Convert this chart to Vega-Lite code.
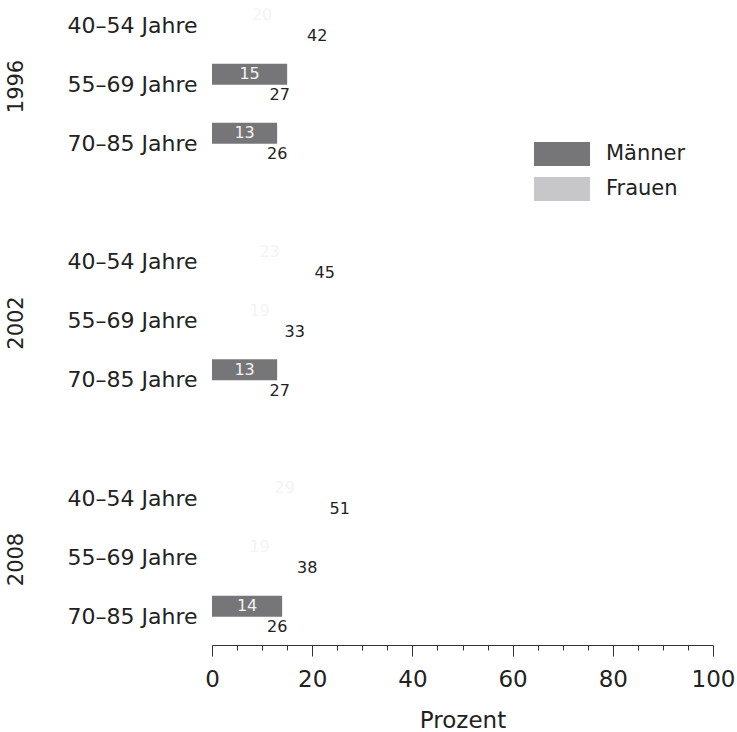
{
  "$schema": "https://vega.github.io/schema/vega-lite/v6.json",
  "autosize": {"type": "pad"},
  "padding": {"left": 5, "top": 0, "right": 0, "bottom": 0},
  "background": "white",
  "data": {
    "values": [
      {"Jahr": "1996", "Alter": "40–54 Jahre", "Geschlecht": "Männer", "Prozent": 20},
      {"Jahr": "1996", "Alter": "40–54 Jahre", "Geschlecht": "Frauen", "Prozent": 42},
      {"Jahr": "1996", "Alter": "55–69 Jahre", "Geschlecht": "Männer", "Prozent": 15},
      {"Jahr": "1996", "Alter": "55–69 Jahre", "Geschlecht": "Frauen", "Prozent": 27},
      {"Jahr": "1996", "Alter": "70–85 Jahre", "Geschlecht": "Männer", "Prozent": 13},
      {"Jahr": "1996", "Alter": "70–85 Jahre", "Geschlecht": "Frauen", "Prozent": 26},
      {"Jahr": "2002", "Alter": "40–54 Jahre", "Geschlecht": "Männer", "Prozent": 23},
      {"Jahr": "2002", "Alter": "40–54 Jahre", "Geschlecht": "Frauen", "Prozent": 45},
      {"Jahr": "2002", "Alter": "55–69 Jahre", "Geschlecht": "Männer", "Prozent": 19},
      {"Jahr": "2002", "Alter": "55–69 Jahre", "Geschlecht": "Frauen", "Prozent": 33},
      {"Jahr": "2002", "Alter": "70–85 Jahre", "Geschlecht": "Männer", "Prozent": 13},
      {"Jahr": "2002", "Alter": "70–85 Jahre", "Geschlecht": "Frauen", "Prozent": 27},
      {"Jahr": "2008", "Alter": "40–54 Jahre", "Geschlecht": "Männer", "Prozent": 29},
      {"Jahr": "2008", "Alter": "40–54 Jahre", "Geschlecht": "Frauen", "Prozent": 51},
      {"Jahr": "2008", "Alter": "55–69 Jahre", "Geschlecht": "Männer", "Prozent": 19},
      {"Jahr": "2008", "Alter": "55–69 Jahre", "Geschlecht": "Frauen", "Prozent": 38},
      {"Jahr": "2008", "Alter": "70–85 Jahre", "Geschlecht": "Männer", "Prozent": 14},
      {"Jahr": "2008", "Alter": "70–85 Jahre", "Geschlecht": "Frauen", "Prozent": 26}
    ]
  },
  "spacing": 64.5,
  "vconcat": [
    {
      "transform": [{"filter": "datum.Jahr === '1996'"}],
      "width": 501,
      "height": 172,
      "encoding": {
        "y": {
          "field": "Alter", "type": "nominal",
          "sort": ["40–54 Jahre", "55–69 Jahre", "70–85 Jahre"],
          "scale": {"paddingInner": 0.288, "paddingOuter": 0.1017, "align": 0.4},
          "axis": {"title": "1996"}
        },
        "yOffset": {"field": "Geschlecht", "type": "nominal", "sort": ["Männer", "Frauen"], "scale": {"paddingInner": 0, "paddingOuter": 0}}
      },
      "layer": [
        {
          "mark": {"type": "bar"},
          "encoding": {
            "x": {"field": "Prozent", "type": "quantitative", "scale": {"domain": [0, 100], "nice": false}, "axis": null},
            "color": {"field": "Geschlecht", "type": "nominal", "scale": {"domain": ["Männer", "Frauen"], "range": ["#767678", "#c7c7c9"]}},
            "opacity": {"condition": {"test": "datum.Geschlecht === 'Männer' && datum.Prozent <= 15", "value": 1}, "value": 0}
          }
        },
        {
          "mark": {"type": "text", "font": "DejaVu Sans", "fontSize": 16, "baseline": "middle", "align": "center"},
          "encoding": {
            "x": {"field": "Prozent", "type": "quantitative", "scale": {"domain": [0, 200], "nice": false}, "axis": null},
            "text": {"field": "Prozent", "type": "quantitative"},
            "color": {"condition": {"test": "datum.Geschlecht === 'Männer'", "value": "#f4f4f4"}, "value": "#222222"}
          }
        }
      ],
      "resolve": {"scale": {"x": "independent"}}
    },
    {
      "transform": [{"filter": "datum.Jahr === '2002'"}],
      "width": 501,
      "height": 172,
      "encoding": {
        "y": {
          "field": "Alter", "type": "nominal",
          "sort": ["40–54 Jahre", "55–69 Jahre", "70–85 Jahre"],
          "scale": {"paddingInner": 0.288, "paddingOuter": 0.1017, "align": 0.4},
          "axis": {"title": "2002"}
        },
        "yOffset": {"field": "Geschlecht", "type": "nominal", "sort": ["Männer", "Frauen"], "scale": {"paddingInner": 0, "paddingOuter": 0}}
      },
      "layer": [
        {
          "mark": {"type": "bar"},
          "encoding": {
            "x": {"field": "Prozent", "type": "quantitative", "scale": {"domain": [0, 100], "nice": false}, "axis": null},
            "color": {"field": "Geschlecht", "type": "nominal", "scale": {"domain": ["Männer", "Frauen"], "range": ["#767678", "#c7c7c9"]}},
            "opacity": {"condition": {"test": "datum.Geschlecht === 'Männer' && datum.Prozent <= 15", "value": 1}, "value": 0}
          }
        },
        {
          "mark": {"type": "text", "font": "DejaVu Sans", "fontSize": 16, "baseline": "middle", "align": "center"},
          "encoding": {
            "x": {"field": "Prozent", "type": "quantitative", "scale": {"domain": [0, 200], "nice": false}, "axis": null},
            "text": {"field": "Prozent", "type": "quantitative"},
            "color": {"condition": {"test": "datum.Geschlecht === 'Männer'", "value": "#f4f4f4"}, "value": "#222222"}
          }
        }
      ],
      "resolve": {"scale": {"x": "independent"}}
    },
    {
      "transform": [{"filter": "datum.Jahr === '2008'"}],
      "width": 501,
      "height": 172,
      "encoding": {
        "y": {
          "field": "Alter", "type": "nominal",
          "sort": ["40–54 Jahre", "55–69 Jahre", "70–85 Jahre"],
          "scale": {"paddingInner": 0.288, "paddingOuter": 0.1017, "align": 0.4},
          "axis": {"title": "2008"}
        },
        "yOffset": {"field": "Geschlecht", "type": "nominal", "sort": ["Männer", "Frauen"], "scale": {"paddingInner": 0, "paddingOuter": 0}}
      },
      "layer": [
        {
          "mark": {"type": "bar"},
          "encoding": {
            "x": {
              "field": "Prozent", "type": "quantitative",
              "scale": {"domain": [0, 100], "nice": false},
              "axis": {
                "title": "Prozent",
                "values": [0, 5, 10, 15, 20, 25, 30, 35, 40, 45, 50, 55, 60, 65, 70, 75, 80, 85, 90, 95, 100],
                "labelExpr": "datum.value % 20 === 0 ? datum.label : ''",
                "labelOverlap": false,
                "labelFlush": false,
                "tickSize": {"condition": {"test": "datum.value % 20 === 0", "value": 11}, "value": 5},
                "tickColor": "#333333",
                "domainColor": "#333333",
                "grid": false,
                "labelFont": "DejaVu Sans",
                "labelFontSize": 23,
                "labelColor": "#222222",
                "labelPadding": 12,
                "titleFont": "DejaVu Sans",
                "titleFontSize": 23,
                "titleFontWeight": "normal",
                "titleColor": "#222222",
                "titlePadding": 18
              }
            },
            "color": {"field": "Geschlecht", "type": "nominal", "scale": {"domain": ["Männer", "Frauen"], "range": ["#767678", "#c7c7c9"]}},
            "opacity": {"condition": {"test": "datum.Geschlecht === 'Männer' && datum.Prozent <= 15", "value": 1}, "value": 0}
          }
        },
        {
          "mark": {"type": "text", "font": "DejaVu Sans", "fontSize": 16, "baseline": "middle", "align": "center"},
          "encoding": {
            "x": {"field": "Prozent", "type": "quantitative", "scale": {"domain": [0, 200], "nice": false}, "axis": null},
            "text": {"field": "Prozent", "type": "quantitative"},
            "color": {"condition": {"test": "datum.Geschlecht === 'Männer'", "value": "#f4f4f4"}, "value": "#222222"}
          }
        }
      ],
      "resolve": {"scale": {"x": "independent"}}
    }
  ],
  "config": {
    "view": {"stroke": null},
    "axisY": {
      "ticks": false,
      "domain": false,
      "labelPadding": 15,
      "labelFont": "DejaVu Sans",
      "labelFontSize": 22,
      "labelColor": "#222222",
      "titleFont": "DejaVu Sans",
      "titleFontSize": 21,
      "titleFontWeight": "normal",
      "titleColor": "#222222",
      "titlePadding": 41
    },
    "axis": {"domainWidth": 1, "tickWidth": 1},
    "legend": {
      "title": null,
      "orient": "none",
      "legendX": 322,
      "legendY": 142,
      "symbolType": "M-1,-1H3.67V1H-1Z",
      "symbolSize": 576,
      "symbolStrokeWidth": 0,
      "symbolOpacity": 1,
      "labelOffset": 48,
      "rowPadding": 11,
      "labelFont": "DejaVu Sans",
      "labelFontSize": 21,
      "labelColor": "#222222"
    }
  }
}
